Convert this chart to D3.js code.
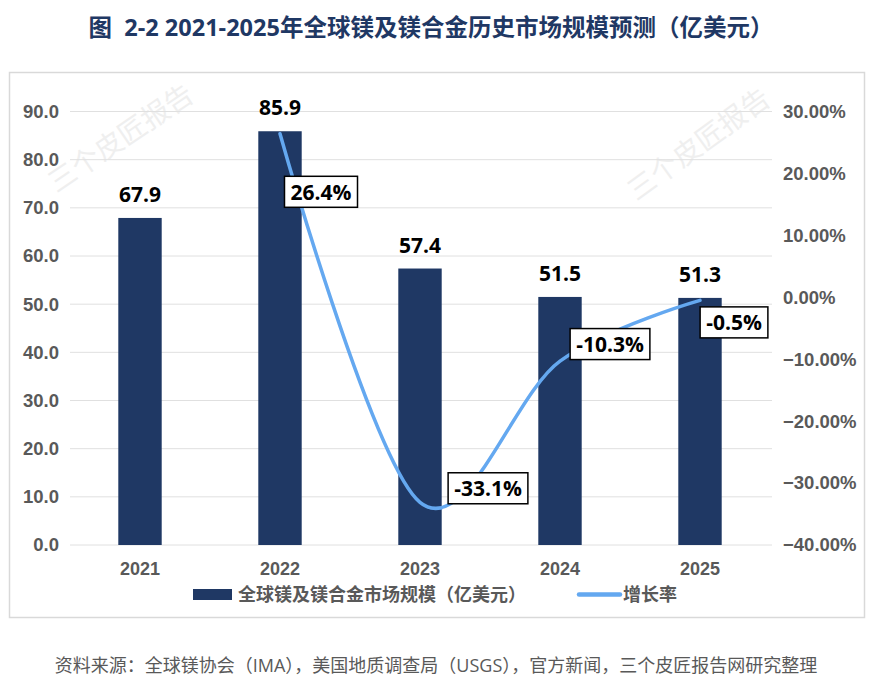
<!DOCTYPE html>
<html><head><meta charset="utf-8">
<script src="https://cdn.jsdelivr.net/npm/d3@7"></script>
<style>
html,body{margin:0;padding:0;background:#fff;}
svg{display:block;font-family:"Open Sans","Noto Sans CJK SC",sans-serif;}
</style></head>
<body><svg id="c" width="881" height="691"></svg>
<script>
const years = ["2021","2022","2023","2024","2025"];
const marketSize = [67.9, 85.9, 57.4, 51.5, 51.3];
const growthRate = [null, 0.264, -0.331, -0.103, -0.005];
const leftTicks = [0,10,20,30,40,50,60,70,80,90];
const rightTicks = [-0.4,-0.3,-0.2,-0.1,0,0.1,0.2,0.3];
const titleText = "图  2-2 2021-2025年全球镁及镁合金历史市场规模预测（亿美元）";
const barLegend = "全球镁及镁合金市场规模（亿美元）";
const lineLegend = "增长率";
const sourceText = "资料来源：全球镁协会（IMA），美国地质调查局（USGS），官方新闻，三个皮匠报告网研究整理";
const watermark = "三个皮匠报告";
// label box offsets (layout)
const labelOffsets = [null, [41,58], [68,-14], [50,-17], [34,22]];

const svg = d3.select("#c");
const barColor = "#1f3864", lineColor = "#64a8f0", axisText = "#595959";

svg.append("text").attr("x",431).attr("y",36).attr("text-anchor","middle").attr("xml:space","preserve")
  .style("white-space","pre")
  .attr("font-size",23.5).attr("font-weight","bold").attr("fill","#1f3864").text(titleText);

svg.append("rect").attr("x",9.5).attr("y",72.5).attr("width",855).attr("height",545)
  .attr("fill","none").attr("stroke","#d9d9d9").attr("stroke-width",1.5);

const x = d3.scaleBand().domain(years).range([70,770]).paddingInner(0.69).paddingOuter(0.345);
const yL = d3.scaleLinear().domain([0,90]).range([545,111.5]);
const yR = d3.scaleLinear().domain([-0.4,0.3]).range([545,111.5]);

// watermarks
[[122,140,-34],[700,146,-36]].forEach(([cx,cy,a])=>{
  svg.append("text").attr("transform",`translate(${cx},${cy}) rotate(${a})`)
    .attr("text-anchor","middle").attr("dominant-baseline","middle")
    .attr("font-size",28).attr("fill","#efefef").text(watermark);
});

// gridlines
svg.append("g").selectAll("line").data(leftTicks).join("line")
  .attr("x1",70).attr("x2",772).attr("y1",d=>yL(d)).attr("y2",d=>yL(d))
  .attr("stroke","#e0e0e0").attr("stroke-width",1);

// left axis
const gl = svg.append("g").attr("transform","translate(59,0)")
  .call(d3.axisLeft(yL).tickValues(leftTicks).tickFormat(d3.format(".1f")).tickSize(0).tickPadding(0));
gl.select(".domain").remove();
gl.selectAll("text").attr("font-size",18.5).attr("font-weight","bold").attr("fill",axisText).attr("font-family",null);

// right axis
const gr = svg.append("g").attr("transform","translate(783,0)")
  .call(d3.axisRight(yR).tickValues(rightTicks).tickFormat(d3.format(".2%")).tickSize(0).tickPadding(0));
gr.select(".domain").remove();
gr.selectAll("text").attr("font-size",18.5).attr("font-weight","bold").attr("fill",axisText).attr("font-family",null);

// x axis
const gx = svg.append("g").attr("transform","translate(0,550)")
  .call(d3.axisBottom(x).tickSize(0).tickPadding(0));
gx.select(".domain").remove();
gx.selectAll("text").attr("dy",null).attr("y",24.5).attr("font-size",18).attr("font-weight","bold").attr("fill",axisText).attr("font-family",null);

// bars
svg.append("g").selectAll("rect").data(years).join("rect")
  .attr("x",d=>x(d)).attr("width",x.bandwidth())
  .attr("y",(d,i)=>yL(marketSize[i])).attr("height",(d,i)=>yL(0)-yL(marketSize[i]))
  .attr("fill",barColor);

// bar value labels
svg.append("g").selectAll("text").data(years).join("text")
  .attr("x",d=>x(d)+x.bandwidth()/2).attr("y",(d,i)=>yL(marketSize[i])-16)
  .attr("text-anchor","middle").attr("font-size",21).attr("font-weight","bold").attr("fill","#000")
  .text((d,i)=>marketSize[i].toFixed(1));

// growth line
const cx = d=>x(d)+x.bandwidth()/2;
const line = d3.line().defined((d,i)=>growthRate[i]!==null)
  .x(d=>cx(d)).y((d,i)=>yR(growthRate[i])).curve(d3.curveCardinal.tension(0));
svg.append("path").datum(years).attr("d",line)
  .attr("fill","none").attr("stroke",lineColor).attr("stroke-width",3.5).attr("stroke-linecap","round");

// growth labels
const lg = svg.append("g");
years.forEach((d,i)=>{
  if(growthRate[i]===null) return;
  const px = cx(d)+labelOffsets[i][0], py = yR(growthRate[i])+labelOffsets[i][1];
  const g = lg.append("g");
  const r = g.append("rect");
  const t = g.append("text").attr("x",px).attr("y",py).attr("text-anchor","middle")
    .attr("dominant-baseline","central").attr("font-size",21).attr("font-weight","bold").attr("fill","#000")
    .text((growthRate[i]*100).toFixed(1)+"%");
  const b = t.node().getBBox();
  const w = b.width+12, h = 31;
  r.attr("x",px-w/2).attr("y",py-h/2).attr("width",w).attr("height",h)
    .attr("fill","#fff").attr("stroke","#000").attr("stroke-width",1.5);
});

// legend
svg.append("rect").attr("x",193).attr("y",589).attr("width",39).attr("height",11).attr("fill",barColor);
svg.append("text").attr("x",238).attr("y",601).attr("font-size",18).attr("font-weight","bold").attr("fill",axisText).text(barLegend);
svg.append("line").attr("x1",579).attr("x2",620).attr("y1",594.5).attr("y2",594.5)
  .attr("stroke",lineColor).attr("stroke-width",4.5).attr("stroke-linecap","round");
svg.append("text").attr("x",623).attr("y",601).attr("font-size",18).attr("font-weight","bold").attr("fill",axisText).text(lineLegend);

// source
svg.append("text").attr("x",436).attr("y",672).attr("text-anchor","middle")
  .attr("font-size",18).attr("fill",axisText).text(sourceText);
</script></body></html>
